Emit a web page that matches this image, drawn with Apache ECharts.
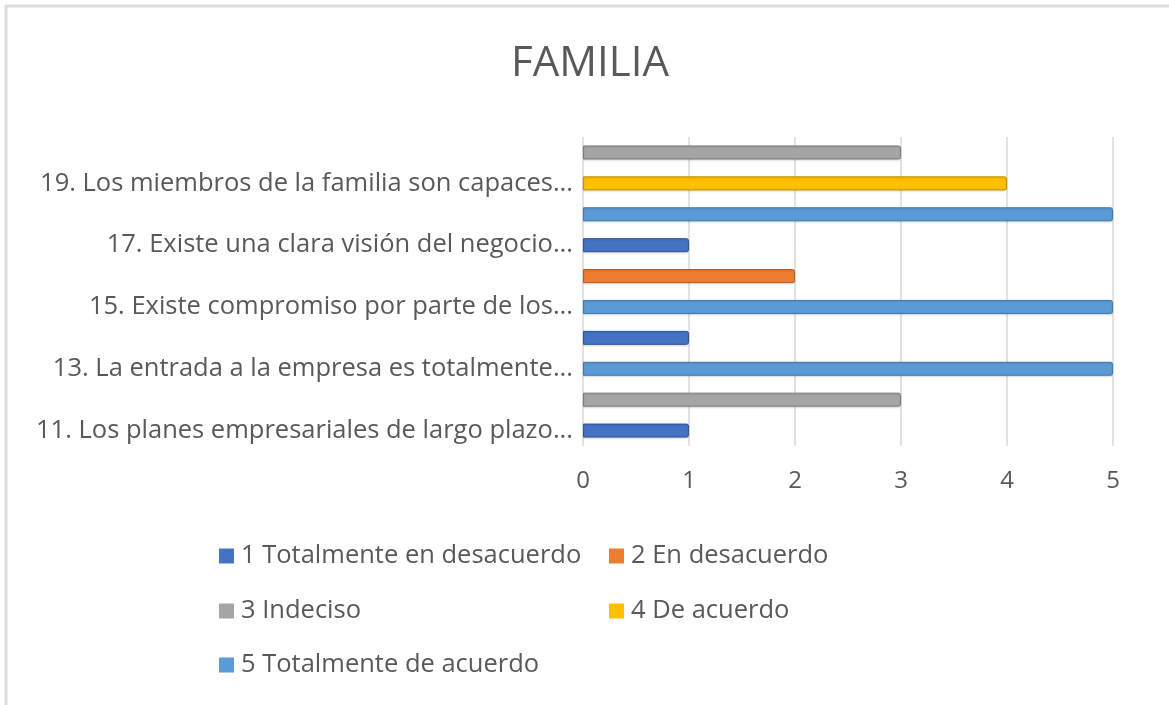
<!DOCTYPE html>
<html>
<head>
<meta charset="utf-8">
<script src="https://cdn.jsdelivr.net/npm/echarts@6/dist/echarts.min.js"></script>
<style>
  html, body { margin: 0; padding: 0; background: #fff; }
  #chart { width: 1169px; height: 705px; }
</style>
</head>
<body>
<div id="chart"></div>
<script>
// categories, bottom to top (only odd ones get a label in the original)
const categories = [
  "11. Los planes empresariales de largo plazo...",
  "12.",
  "13. La entrada a la empresa es totalmente...",
  "14.",
  "15. Existe compromiso por parte de los...",
  "16.",
  "17. Existe una clara visión del negocio...",
  "18.",
  "19. Los miembros de la familia son capaces...",
  "20."
];

const seriesNames = [
  "1 Totalmente en desacuerdo",
  "2 En desacuerdo",
  "3 Indeciso",
  "4 De acuerdo",
  "5 Totalmente de acuerdo"
];

// one array per answer, null where the item has no bar of that colour
const totDesacuerdo = [1, null, null, 1, null, null, 1, null, null, null];
const enDesacuerdo  = [null, null, null, null, null, 2, null, null, null, null];
const indeciso      = [null, 3, null, null, null, null, null, null, null, 3];
const deAcuerdo     = [null, null, null, null, null, null, null, null, 4, null];
const totAcuerdo    = [null, null, 5, null, 5, null, null, 5, null, null];

const colors = ["#4472C4", "#ED7D31", "#A5A5A5", "#FFC000", "#5B9BD5"];
const edge   = ["#2F5597", "#B85B1E", "#7B7B7B", "#BF9000", "#3E78B0"];

const chart = echarts.init(document.getElementById("chart"));

const allData = [totDesacuerdo, enDesacuerdo, indeciso, deAcuerdo, totAcuerdo];
const series = allData.map((d, i) => ({
  name: seriesNames[i],
  type: "bar",
  stack: "total",
  data: d,
  barWidth: 14,
  itemStyle: {
    color: colors[i],
    borderColor: edge[i],
    borderWidth: 1,
    borderRadius: [0, 2, 2, 0],
    shadowColor: "rgba(0,0,0,0.15)",
    shadowBlur: 2,
    shadowOffsetY: 1
  }
}));

// legend placement, two columns like the Excel layout
const legendPos = [
  { left: 214, top: 538 },
  { left: 604, top: 538 },
  { left: 214, top: 593 },
  { left: 604, top: 593 },
  { left: 214, top: 647 }
];

const option = {
  backgroundColor: "#fff",
  textStyle: { fontFamily: "Open Sans" },
  title: {
    text: "FAMILIA",
    left: 506,
    top: 38,
    textStyle: { fontSize: 42, fontWeight: "normal", color: "#595959", fontFamily: "Open Sans" }
  },
  legend: legendPos.map((p, i) => ({
    left: p.left,
    top: p.top,
    data: [seriesNames[i]],
    itemWidth: 15,
    itemHeight: 15,
    itemGap: 0,
    icon: "rect",
    itemStyle: { borderWidth: 0 },
    textStyle: { fontSize: 25.5, color: "#595959", fontFamily: "Open Sans", padding: [0, 0, 0, 2] },
    selectedMode: false
  })),
  grid: { left: 583, right: 56, top: 137, bottom: 259 },
  xAxis: {
    type: "value",
    min: 0,
    max: 5,
    interval: 1,
    axisLine: { show: false },
    axisTick: { show: false },
    axisLabel: { fontSize: 24, color: "#595959", margin: 23 },
    splitLine: { show: true, lineStyle: { color: "#D9D9D9", width: 1.5 } }
  },
  yAxis: {
    type: "category",
    data: categories,
    axisLine: { show: false },
    axisTick: { show: false },
    axisLabel: {
      interval: 1,
      fontSize: 25.5,
      color: "#595959",
      margin: 10
    }
  },
  graphic: [
    {
      type: "polyline",
      shape: { points: [[6, 705], [6, 6], [1169, 6]] },
      style: { stroke: "#DDDDDD", lineWidth: 3, fill: null },
      silent: true
    }
  ],
  series: series
};

chart.setOption(option);
</script>
</body>
</html>
